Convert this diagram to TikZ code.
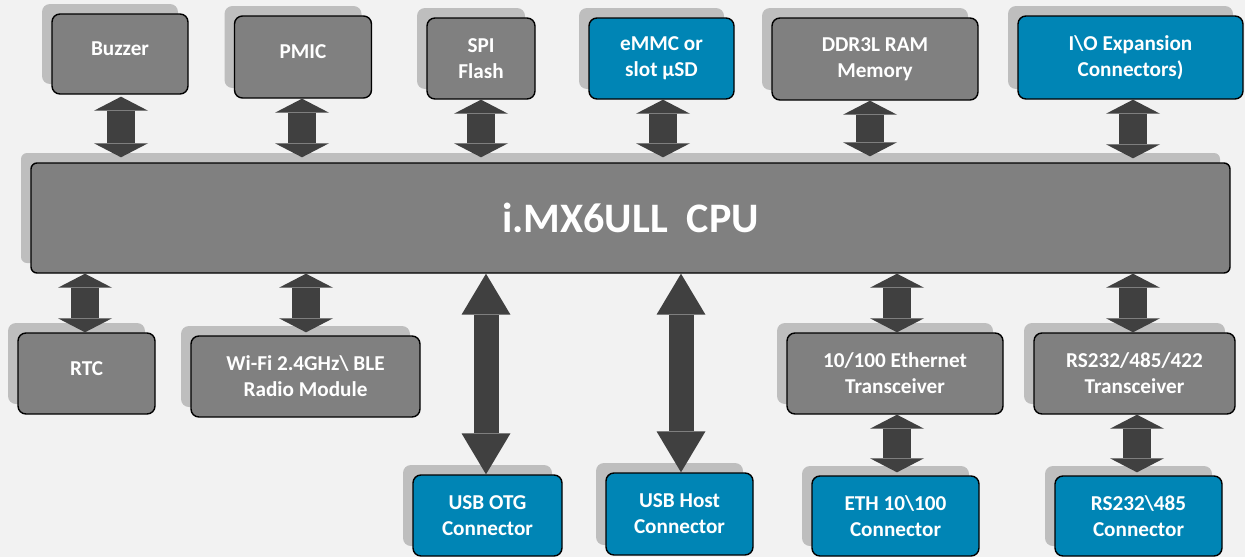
\documentclass[tikz,border=0pt]{standalone}
\usepackage{fontspec}
\setmainfont{Carlito}
\usetikzlibrary{arrows.meta,shadows}
\definecolor{bg}{HTML}{F2F2F2}
\definecolor{boxgray}{HTML}{808080}
\definecolor{boxblue}{HTML}{0085B5}
\definecolor{arrowgray}{HTML}{404040}
\definecolor{shadowgray}{HTML}{BEBEBE}
\begin{document}
\begin{tikzpicture}[x=1pt,y=-1pt,
  sz/.style 2 args={minimum width=#1pt,minimum height=#2pt},
  box/.style={draw=black, line width=1.4pt, rounded corners=8pt, fill=boxgray,
    text=white, font=\fontsize{21.2}{26}\selectfont\bfseries, align=center, inner sep=0pt,
    general shadow={fill=shadowgray, shadow xshift=-10pt, shadow yshift=10pt}},
  bluebox/.style={box, fill=boxblue},
  oneline/.style={text depth=10pt},
  dbl/.style={draw=arrowgray, line width=28pt,
    arrows={Triangle[width=54pt,length=14pt,line width=0pt]-Triangle[width=54pt,length=14pt,line width=0pt]}},
  dbllong/.style={draw=arrowgray, line width=25pt,
    arrows={Triangle[width=49pt,length=41pt,line width=0pt]-Triangle[width=49pt,length=41pt,line width=0pt]}}]
\path[fill=bg] (0,0) rectangle (1245,557);
\useasboundingbox (0,0) rectangle (1245,557);

% top row
\node[box, oneline, sz={136}{80}] (buzzer) at (120,54) {Buzzer};
\node[box, oneline, sz={137}{82}] (pmic) at (303,57) {PMIC};
\node[box, sz={108}{81}] (spi) at (481,58.5) {SPI\\Flash};
\node[bluebox, sz={145}{81}] (emmc) at (661.5,58.5) {eMMC or\\slot µSD};
\node[box, sz={206}{82}] (ddr) at (875,59) {DDR3L RAM\\Memory};
\node[bluebox, sz={225}{83}] (io) at (1130.5,57.5) {I\textbackslash O Expansion\\Connectors)};

% CPU
\node[box, rounded corners=6pt, sz={1199}{110}, font=\fontsize{42}{50}\selectfont\bfseries] (cpu) at (630.5,218) {i.MX6ULL\ \ CPU};

% bottom row
\node[box, oneline, sz={137}{81}] (rtc) at (86.5,373.5) {RTC};
\node[box, sz={229}{81}] (wifi) at (305.5,376.5) {Wi-Fi 2.4GHz\textbackslash{} BLE\\Radio Module};
\node[box, sz={216}{81}] (ethtr) at (895,373.5) {10/100 Ethernet\\Transceiver};
\node[box, sz={201}{81}] (rstr) at (1134.5,373.5) {RS232/485/422\\Transceiver};
\node[bluebox, sz={149}{81}] (usbotg) at (487.5,515.5) {USB OTG\\Connector};
\node[bluebox, sz={147}{82}] (usbhost) at (679.5,514) {USB Host\\Connector};
\node[bluebox, sz={167}{80}] (ethcon) at (895.5,516) {ETH 10\textbackslash 100\\Connector};
\node[bluebox, sz={167}{80}] (rscon) at (1138.5,516) {RS232\textbackslash 485\\Connector};

% arrows top
\draw[dbl] ([xshift=1pt,yshift=-2pt]buzzer.south) -- ([xshift=1pt,yshift=5pt]buzzer.south |- cpu.north);
\draw[dbl] ([xshift=-1pt,yshift=0pt]pmic.south) -- ([xshift=-1pt,yshift=5pt]pmic.south |- cpu.north);
\draw[dbl] ([yshift=0pt]spi.south) -- ([yshift=5pt]spi.south |- cpu.north);
\draw[dbl] ([xshift=1.5pt,yshift=0pt]emmc.south) -- ([xshift=1.5pt,yshift=5pt]emmc.south |- cpu.north);
\draw[dbl] ([xshift=-5pt,yshift=0pt]ddr.south) -- ([xshift=-5pt,yshift=6pt]ddr.south |- cpu.north);
\draw[dbl] ([xshift=2.5pt,yshift=0pt]io.south) -- ([xshift=2.5pt,yshift=4pt]io.south |- cpu.north);

% arrows bottom
\draw[dbl] ([xshift=-1.5pt]rtc.north |- cpu.south) -- ([xshift=-1.5pt]rtc.north);
\draw[dbl] ([xshift=0.5pt]wifi.north |- cpu.south) -- ([xshift=0.5pt,yshift=3pt]wifi.north);
\draw[dbllong] ([xshift=-1.5pt]usbotg.north |- cpu.south) -- ([xshift=-1.5pt]usbotg.north);
\draw[dbllong] ([xshift=1.5pt]usbhost.north |- cpu.south) -- ([xshift=1.5pt]usbhost.north);
\draw[dbl] ([xshift=2pt]ethtr.north |- cpu.south) -- ([xshift=2pt]ethtr.north);
\draw[dbl] ([xshift=-1.5pt]rstr.north |- cpu.south) -- ([xshift=-1.5pt]rstr.north);
\draw[dbl] ([xshift=2pt]ethtr.south) -- ([xshift=2pt,yshift=3pt]ethtr.south |- ethcon.north);
\draw[dbl] ([xshift=2.5pt]rstr.south) -- ([xshift=2.5pt,yshift=3pt]rstr.south |- rscon.north);
\end{tikzpicture}
\end{document}
